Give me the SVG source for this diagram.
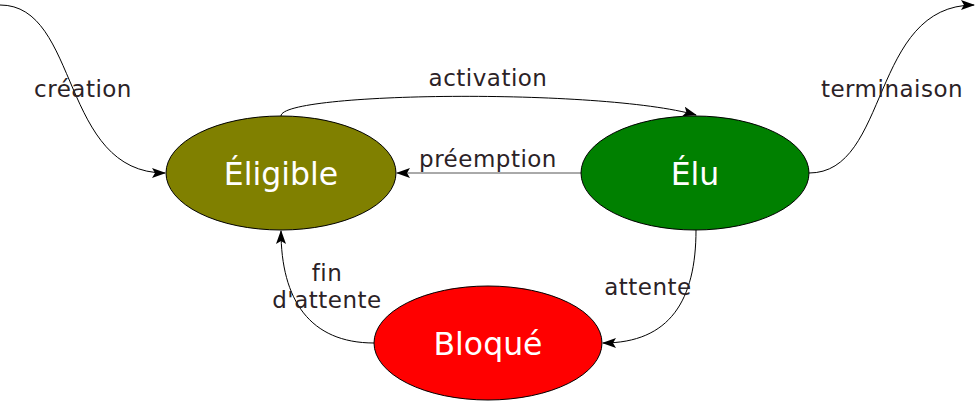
<svg xmlns="http://www.w3.org/2000/svg" width="977" height="402" viewBox="0 0 977 402">
<style>
.n{stroke:#000;stroke-width:1}
.nt{font-family:"DejaVu Sans",sans-serif;font-size:31.5px;fill:#fff;text-anchor:middle}
.e{fill:none;stroke:#000;stroke-width:1}
.lb{font-family:"DejaVu Sans",sans-serif;font-size:23px;letter-spacing:0.5px;fill:#2b2226;text-anchor:middle}
</style>
<defs>
<marker id="ah" viewBox="0 0 14 10" refX="13" refY="5" markerWidth="14" markerHeight="10" markerUnits="userSpaceOnUse" orient="auto">
<path d="M0,0 L14,5 L0,10 L3,5 Z" fill="#000"/>
</marker>
</defs>
<g id="connectors">
<path class="e" d="M0,5 C80,5 60,173 165,173" marker-end="url(#ah)"/>
<path class="e" d="M809,173 C890,173 870,5 974,5" marker-end="url(#ah)"/>
<path class="e" d="M281,116 C281,92 600,88 696,115" marker-end="url(#ah)"/>
<path class="e" d="M581,173 L397,173" style="stroke:#555" marker-end="url(#ah)"/>
<path class="e" d="M696,230 C696,300 670,343 603,343" marker-end="url(#ah)"/>
<path class="e" d="M374,343 C310,343 281,300 281,231" marker-end="url(#ah)"/>
<text class="lb" x="83" y="97">création</text>
<text class="lb" x="488" y="86">activation</text>
<text class="lb" x="488" y="167">préemption</text>
<text class="lb" x="892" y="97">terminaison</text>
<text class="lb" x="648" y="295">attente</text>
<text class="lb" x="327" y="281">fin</text>
<text class="lb" x="327" y="308">d'attente</text>
</g>
<g id="eligible">
<ellipse class="n" cx="281" cy="173" rx="115" ry="57" fill="#808000"/>
<text class="nt" x="281" y="185">Éligible</text>
</g>
<g id="elu">
<ellipse class="n" cx="695" cy="173" rx="114" ry="57" fill="#008000"/>
<text class="nt" x="695" y="185">Élu</text>
</g>
<g id="bloque">
<ellipse class="n" cx="488" cy="343" rx="114" ry="57" fill="#ff0000"/>
<text class="nt" x="488" y="355">Bloqué</text>
</g>
</svg>
